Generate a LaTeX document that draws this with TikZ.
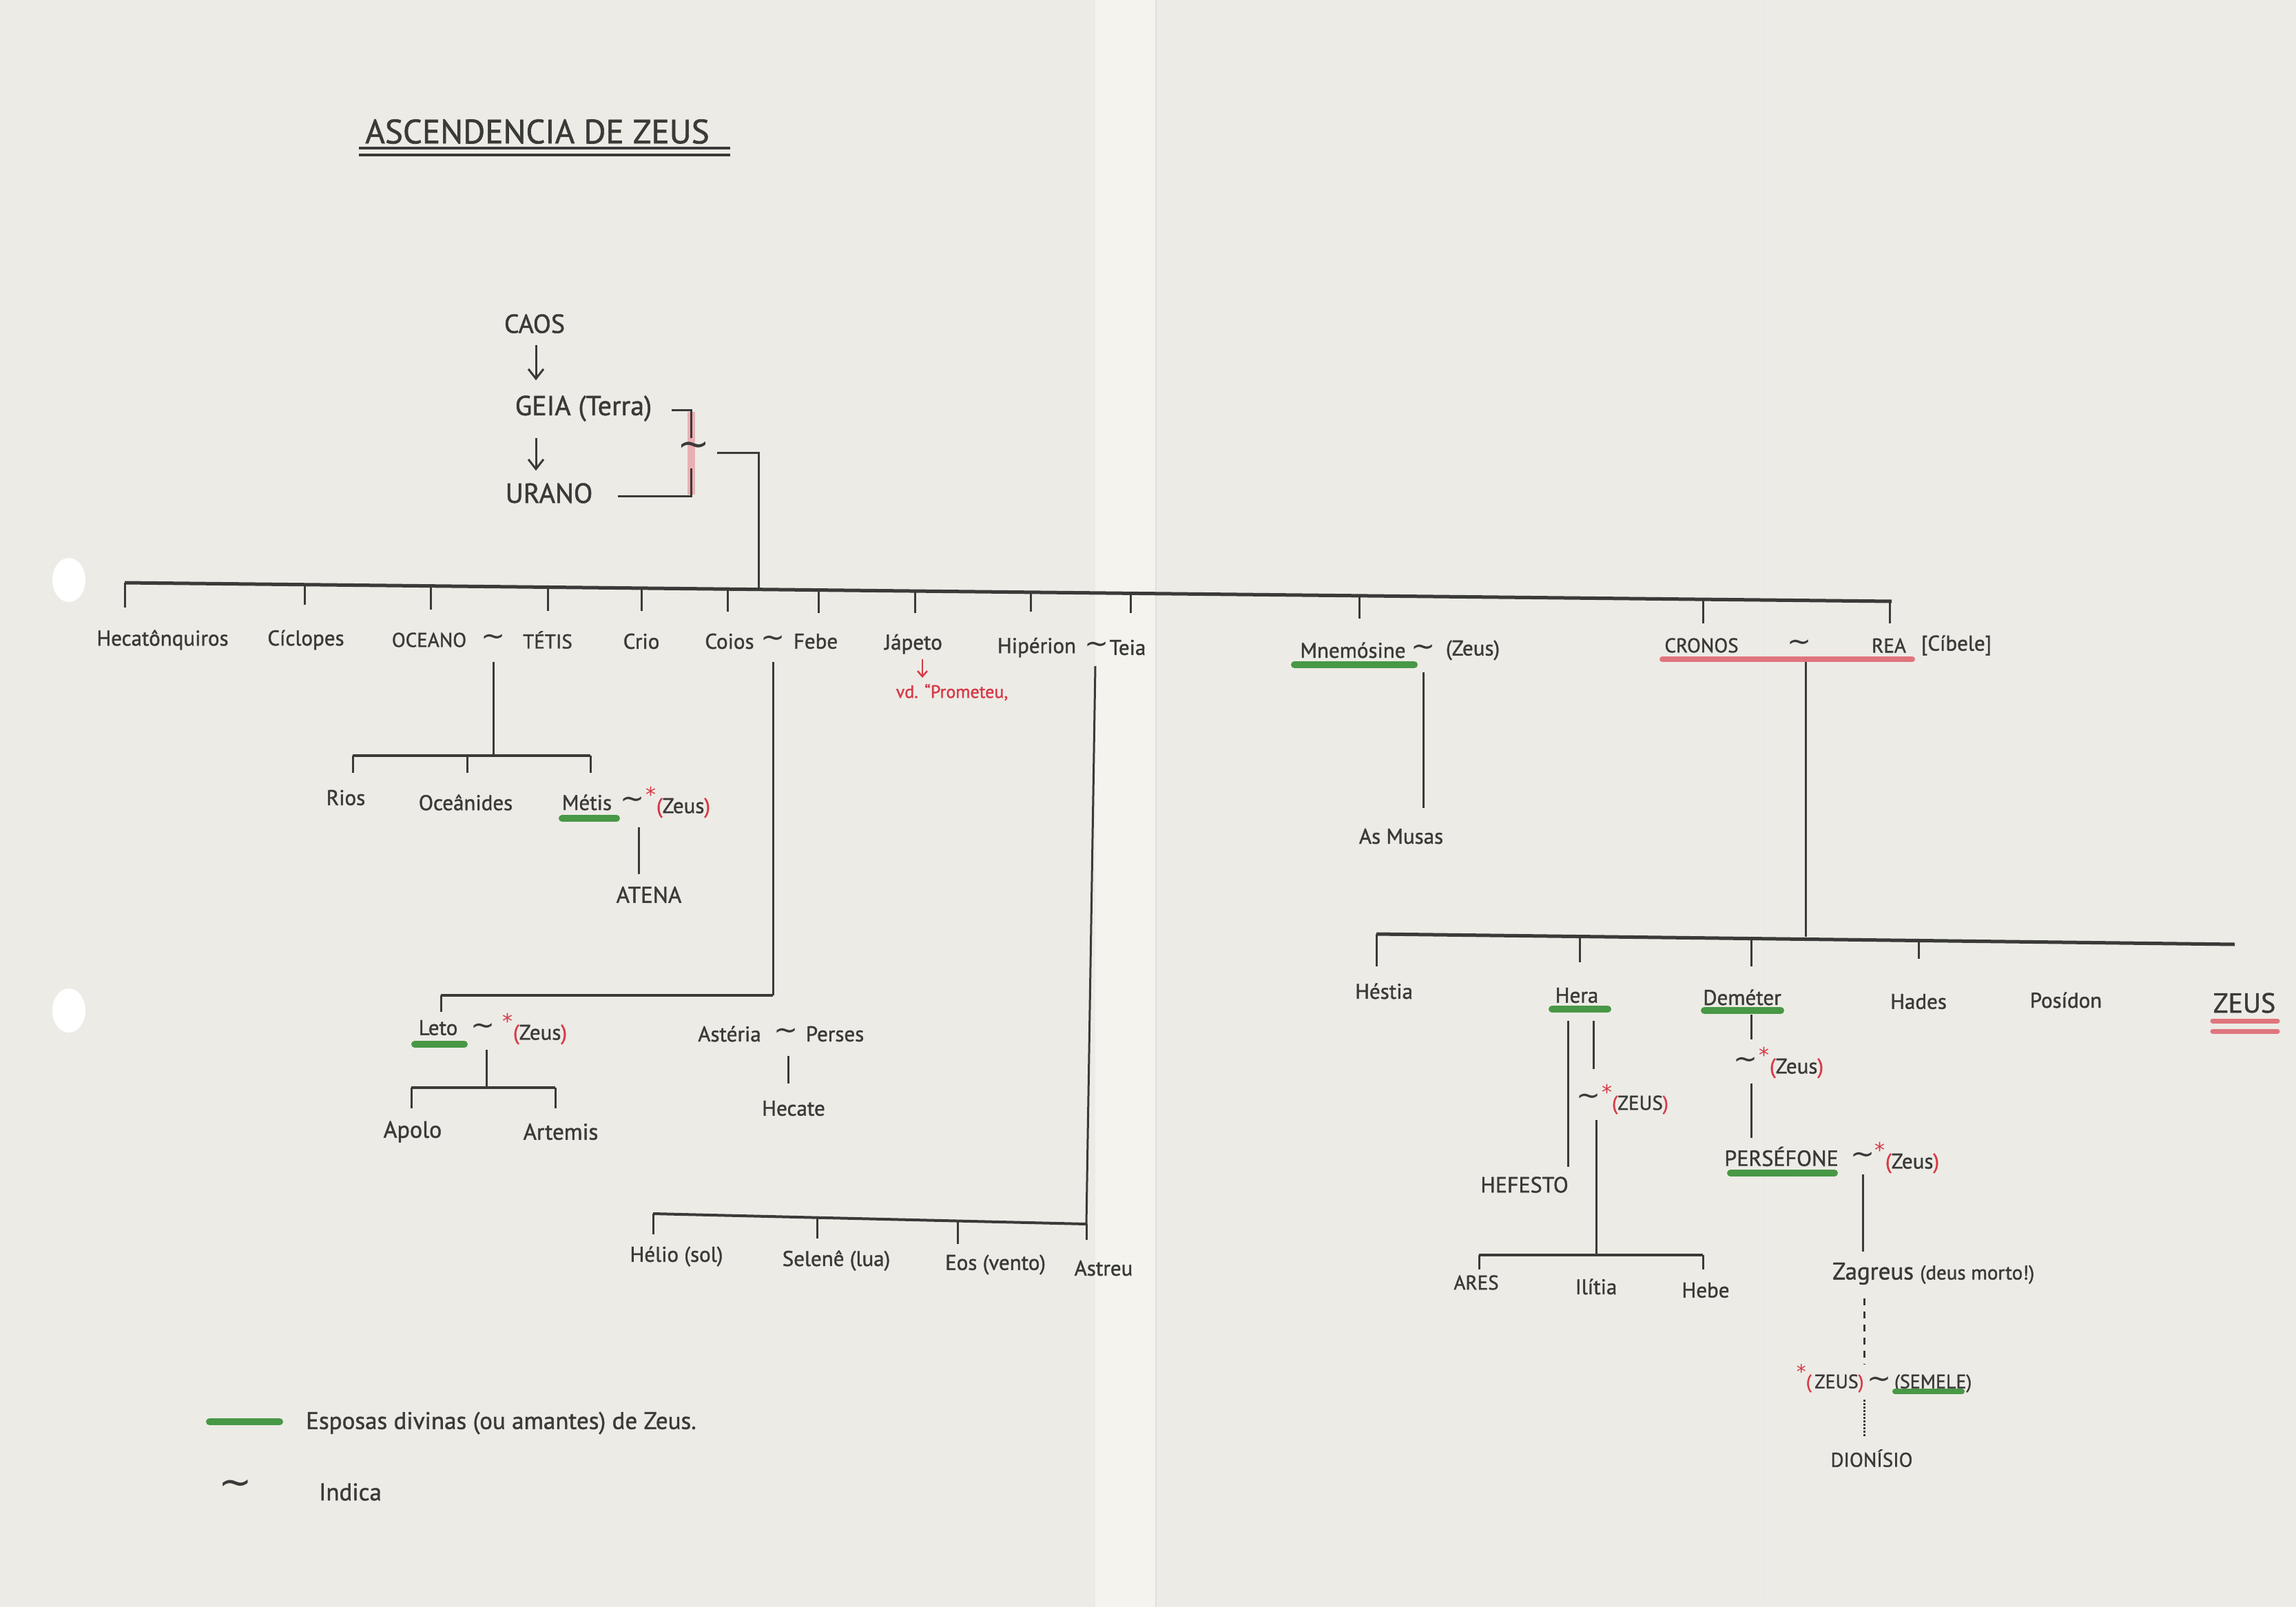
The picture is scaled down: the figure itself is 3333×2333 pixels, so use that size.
\documentclass[tikz,border=0pt]{standalone}
\usepackage{fontspec}
\setmainfont{PT Sans}[FakeBold=1.3]
\newfontfamily\dvs{DejaVu Sans}
\usetikzlibrary{arrows.meta}
\definecolor{paper}{RGB}{237,235,230}
\definecolor{paperlight}{RGB}{244,243,238}
\definecolor{ink}{RGB}{58,58,56}
\definecolor{redink}{RGB}{214,58,72}
\definecolor{greenink}{RGB}{72,152,70}
\newcommand{\sw}{{\dvs\fontsize{42}{42}\selectfont ∼}}
\newcommand{\rstar}{\textcolor{redink}{\llap{\raisebox{0.5em}{\dvs\fontsize{30}{30}\selectfont *}}}}
\newcommand{\rz}[1]{\textcolor{redink}{(}#1\textcolor{redink}{)}}
\tikzset{
  lbl/.style={inner sep=0pt, text=ink, font=\fontsize{31}{36}\selectfont},
  capl/.style={inner sep=0pt, text=ink, font=\fontsize{29}{34}\selectfont},
  smalll/.style={inner sep=0pt, text=ink, font=\fontsize{26}{30}\selectfont},
  bigl/.style={inner sep=0pt, text=ink, font=\fontsize{38}{44}\selectfont},
  wire/.style={draw=ink, line width=3pt},
  barline/.style={draw=ink, line width=5pt},
  arr/.style={draw=ink, line width=3pt, -{Straight Barb[length=14pt,width=22pt,line width=3pt]}},
  gmark/.style={draw=greenink, line width=10pt, line cap=round},
  rmark/.style={draw=redink!85, line width=8pt, line cap=round, opacity=0.8},
}
\begin{document}
\begin{tikzpicture}[x=1pt,y=-1pt]
% paper
\fill[paper] (0,0) rectangle (3333,2333);
\useasboundingbox (0,0) rectangle (3333,2333);
\fill[paperlight] (1590,0) rectangle (1678,2333);
\draw[black!12, line width=2pt] (1678,0) -- (1678,2333);
\draw[black!7, line width=2pt] (2555,0) -- (2555,2333);
\fill[white] (100,842) ellipse (24 and 32);
\fill[white] (100,1467) ellipse (24 and 32);

% title
\node[inner sep=0pt, text=ink, font=\fontsize{49}{54}\selectfont] (title) at (780,191) {ASCENDENCIA DE ZEUS};
\draw[ink, line width=4pt] (521,215) -- (1060,215);
\draw[ink, line width=4pt] (521,225) -- (1060,225);

% Caos - Geia - Urano
\node[bigl] (caos) at (776,470) {CAOS};
\node[bigl, font=\fontsize{40}{46}\selectfont] (geia) at (847,593) {GEIA (Terra)};
\node[bigl, font=\fontsize{40}{46}\selectfont] (urano) at (797,716) {URANO};
\draw[arr, shorten <=17pt, shorten >=22pt] (caos.south -| 778,0) -- (geia.north -| 778,0);
\draw[arr, shorten <=24pt, shorten >=18pt] (geia.south -| 778,0) -- (urano.north -| 778,0);
\draw[redink!60, line width=11pt, opacity=0.6] (1003,598) -- (1003,718);
\node[inner sep=0pt, text=ink] (tGU) at (1007,652) {\dvs\fontsize{56}{56}\selectfont ∼};
\draw[wire] (975,595) -- (1003,595) -- (1003,636);
\draw[wire] (1003,680) -- (1003,720) -- (897,720);
\coordinate (gu1) at (1041,657);
\coordinate (gu2) at (1101,657);
\coordinate (gu3) at (1101,856);
\draw[wire] (gu1) -- (gu2) -- (gu3);

% main bar
\coordinate (barL) at (181,846);
\coordinate (barR) at (2746,873);
\draw[barline] (barL) -- (barR);
\foreach \x/\a/\b in {181/846/882, 442/849/878, 625/851/885, 795/852/887, 931/854/887, 1056/855/888, 1188/857/890, 1328/858/890, 1496/860/888, 1641/861/890, 1973/865/898, 2472/870/905, 2743/873/905}
  \draw[wire] (\x,\a) -- (\x,\b);

% generation labels
\node[lbl] (hec) at (236,929) {Hecatônquiros};
\node[lbl] (cic) at (444,929) {Cíclopes};
\node[capl] (oce) at (623,929) {OCEANO};
\node[lbl] (t1) at (716,929) {\sw};
\node[capl] (tet) at (795,929) {TÉTIS};
\node[lbl] (cri) at (931,931) {Crio};
\node[lbl] (coi) at (1059,931) {Coios};
\node[lbl] (t2) at (1122,931) {\sw};
\node[lbl] (feb) at (1184,931) {Febe};
\node[lbl] (jap) at (1326,935) {Jápeto};
\node[lbl] (hip) at (1505,940) {Hipérion};
\node[lbl] (t3) at (1592,940) {\sw};
\node[lbl] (tei) at (1637,940) {Teia};
\node[lbl] (mne) at (1964,944) {Mnemósine};
\node[lbl] (t4) at (2066,944) {\sw};
\node[lbl] (mz) at (2138,944) {(Zeus)};
\node[capl] (cro) at (2470,937) {CRONOS};
\node[lbl] (t5) at (2612,937) {\sw};
\node[capl] (rea) at (2742,937) {REA};
\node[lbl] (cib) at (2840,937) {[Cíbele]};
\draw[gmark] (1879,965) -- (2053,965);
\draw[rmark] (2413,957) -- (2776,957);

% Japeto note
\node[inner sep=0pt, text=redink, font=\fontsize{26}{30}\selectfont] (prom) at (1382,1005) {vd. ``Prometeu,};
\draw[redink, line width=2.5pt, -{Straight Barb[length=8pt,width=14pt,line width=2.5pt]}] (1339,957) -- (1339,984);

% Oceano ~ Tetis children
\coordinate (oc1) at (716,961);
\coordinate (oc2) at (716,1097);
\draw[wire] (oc1) -- (oc2);
\draw[barline, line width=4pt] (512,1097) -- (857,1097);
\foreach \x in {512,678,857} \draw[wire] (\x,1097) -- (\x,1122);
\node[lbl] (rios) at (502,1158) {Rios};
\node[lbl] (ocn) at (676,1165) {Oceânides};
\node[lbl] (met) at (852,1165) {Métis};
\node[lbl] (t6) at (918,1165) {\sw};
\node[lbl] (z6) at (992,1165) {\rstar\rz{Zeus}};
\draw[gmark] (816,1188) -- (895,1188);
\node[capl, font=\fontsize{33}{38}\selectfont] (ate) at (942,1299) {ATENA};
\draw[wire] (927,1201) -- (927,1269);

% Coios ~ Febe children
\coordinate (cf1) at (1122,961);
\coordinate (cf2) at (1122,1445);
\coordinate (cf3) at (640,1445);
\coordinate (cf4) at (640,1469);
\draw[wire] (cf1) -- (cf2);
\draw[barline, line width=4pt] (cf2) -- (cf3);
\draw[wire] (cf3) -- (cf4);
\node[lbl] (leto) at (636,1492) {Leto};
\node[lbl] (t7) at (701,1494) {\sw};
\node[lbl] (z7) at (784,1494) {\rstar\rz{Zeus}};
\draw[gmark] (602,1516) -- (674,1516);
\draw[wire] (706,1524) -- (706,1579);
\draw[barline, line width=4pt] (597,1579) -- (806,1579);
\draw[wire] (597,1579) -- (597,1609);
\draw[wire] (806,1579) -- (806,1609);
\node[lbl, font=\fontsize{34}{40}\selectfont] (apo) at (599,1643) {Apolo};
\node[lbl, font=\fontsize{33}{40}\selectfont] (art) at (814,1643) {Artemis};
\node[lbl] (ast) at (1059,1501) {Astéria};
\node[lbl] (t8) at (1141,1501) {\sw};
\node[lbl] (per) at (1212,1501) {Perses};
\draw[wire] (1144,1533) -- (1144,1573);
\node[lbl] (hec2) at (1152,1609) {Hecate};

% Hiperion ~ Teia children
\coordinate (ht1) at (1590,967);
\coordinate (ht2) at (1577,1777);
\coordinate (ht3) at (948,1762);
\draw[wire] (ht1) -- (ht2);
\draw[barline, line width=4pt] (ht2) -- (ht3);
\foreach \x/\a/\b in {948/1762/1792, 1186/1768/1798, 1390/1773/1806, 1577/1777/1800}
  \draw[wire] (\x,\a) -- (\x,\b);
\node[lbl] (hel) at (982,1824) {Hélio (sol)};
\node[lbl] (sel) at (1214,1830) {Selenê (lua)};
\node[lbl] (eos) at (1445,1836) {Eos (vento)};
\node[lbl] (astr) at (1602,1841) {Astreu};

% Mnemosine
\draw[wire] (2066,976) -- (2066,1173);
\node[lbl] (mus) at (2034,1214) {As Musas};

% Cronos ~ Rea children
\coordinate (cr1) at (2621,961);
\coordinate (cr2) at (2621,1360);
\draw[wire] (cr1) -- (cr2);
\draw[barline] (1998,1356) -- (3244,1371);
\foreach \x/\a/\b in {1998/1356/1403, 2293/1360/1397, 2542/1363/1403, 2785/1366/1392}
  \draw[wire] (\x,\a) -- (\x,\b);
\node[lbl] (hes) at (2009,1439) {Héstia};
\node[lbl] (her) at (2289,1445) {Hera};
\node[lbl] (dem) at (2529,1448) {Deméter};
\node[lbl] (had) at (2785,1454) {Hades};
\node[lbl] (pos) at (2999,1452) {Posídon};
\node[inner sep=0pt, text=ink, font=\fontsize{40}{46}\selectfont] (zeus) at (3258,1456) {ZEUS};
\draw[gmark] (2253,1465) -- (2334,1465);
\draw[gmark] (2474,1467) -- (2585,1467);
\draw[rmark, line width=7pt] (3212,1482) -- (3306,1482);
\draw[rmark, line width=7pt] (3212,1497) -- (3306,1497);

% Hera
\draw[wire] (2276,1482) -- (2276,1694);
\draw[wire] (2313,1482) -- (2313,1552);
\node[lbl] (t9) at (2306,1596) {\sw};
\node[capl] (z9) at (2381,1596) {\rstar\rz{ZEUS}};
\draw[wire] (2317,1626) -- (2317,1822);
\node[capl, font=\fontsize{32}{38}\selectfont] (hef) at (2213,1720) {HEFESTO};
\draw[barline, line width=4pt] (2147,1822) -- (2472,1822);
\draw[wire] (2147,1822) -- (2147,1843);
\draw[wire] (2472,1822) -- (2472,1843);
\node[capl] (are) at (2143,1862) {ARES};
\node[lbl] (ili) at (2317,1868) {Ilítia};
\node[lbl] (heb) at (2476,1873) {Hebe};

% Demeter
\draw[wire] (2542,1473) -- (2542,1509);
\node[lbl] (t10) at (2534,1543) {\sw};
\node[lbl] (z10) at (2608,1543) {\rstar\rz{Zeus}};
\draw[wire] (2542,1573) -- (2542,1652);
\node[capl, font=\fontsize{32}{38}\selectfont] (pers) at (2586,1679) {PERSÉFONE};
\draw[gmark] (2512,1703) -- (2663,1703);
\node[lbl] (t11) at (2704,1681) {\sw};
\node[lbl] (z11) at (2776,1681) {\rstar\rz{Zeus}};
\draw[wire] (2704,1705) -- (2704,1817);
\node[lbl, anchor=west, font=\fontsize{35}{40}\selectfont] (zag) at (2660,1849) {Zagreus {\fontsize{29}{34}\selectfont(deus morto!)}};
\draw[ink, line width=3pt, dashed, dash pattern=on 10pt off 9pt] (2706,1885) -- (2706,1981);
\node[smalll, font=\fontsize{28}{32}\selectfont] (zs) at (2735,2001) {\textcolor{redink}{\raisebox{0.5em}{\dvs *}(}\,ZEUS\textcolor{redink}{)}\,\sw\,(SEMELE)};
\draw[gmark, line width=8pt] (2751,2020) -- (2848,2020);
\draw[ink, line width=3pt, dotted] (2706,2032) -- (2706,2085);
\node[smalll, font=\fontsize{29}{34}\selectfont] (dio) at (2717,2117) {DIONÍSIO};

% legend
\draw[gmark] (304,2064) -- (406,2064);
\node[lbl, anchor=west, font=\fontsize{35}{40}\selectfont] (leg1) at (444,2066) {Esposas divinas (ou amantes) de Zeus.};
\node[inner sep=0pt, text=ink] (leg2s) at (342,2160) {\dvs\fontsize{58}{58}\selectfont ∼};
\node[lbl, anchor=west, font=\fontsize{35}{40}\selectfont] (leg2) at (463,2166) {Indica};
\end{tikzpicture}
\end{document}
